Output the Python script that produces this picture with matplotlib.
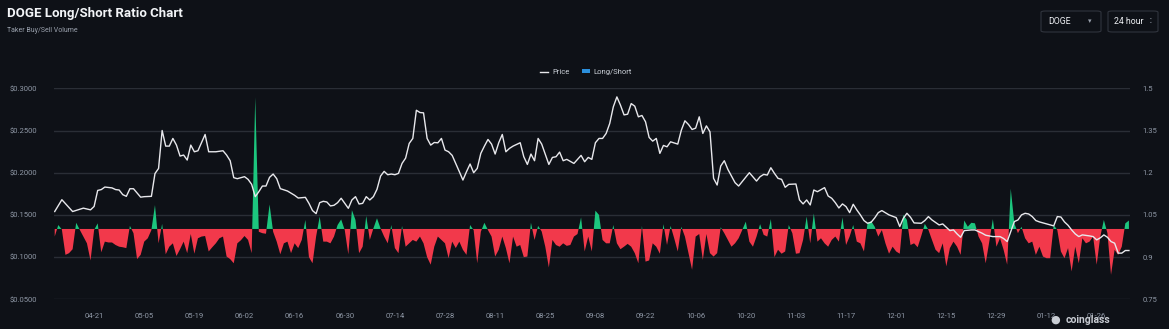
import numpy as np
import pandas as pd
import matplotlib
matplotlib.use('Agg')
import matplotlib.pyplot as plt
from matplotlib.lines import Line2D
from matplotlib.patches import Patch, FancyBboxPatch

plt.rcParams['font.family'] = ['Roboto', 'DejaVu Sans']

# daily series, day 0 = first candle
start = pd.Timestamp('2022-04-10')

# (day, price)
price_points = [
    (0, .154), (2, .168), (5, .154), (8, .158), (10, .156), (11, .160), (12, .179), (13, .180),
    (14, .183), (16, .182), (17, .180), (18, .1795), (19, .174), (20, .172), (21, .181), (22, .181),
    (24, .171), (25, .1716), (27, .172), (28, .199), (29, .205), (30, .250), (31, .2315), (32, .2315),
    (33, .2406), (34, .2327), (35, .2197), (36, .2209), (37, .215), (38, .2327), (39, .2248), (40, .226),
    (42, .2453), (43, .2248), (45, .2248), (47, .226), (48, .2209), (49, .2142), (50, .1941), (51, .1929),
    (53, .1953), (54, .1921), (55, .1862), (56, .1716), (57, .1775), (58, .1842), (59, .1842), (60, .1945),
    (61, .1984), (62, .1929), (63, .1811), (65, .1783), (67, .1732), (68, .170), (70, .1708), (71, .1637),
    (72, .1551), (73, .1515), (74, .1645), (75, .1661), (76, .1653), (77, .1606), (78, .1614), (79, .1645),
    (80, .1697), (81, .1637), (82, .1578), (83, .1677), (84, .1716), (85, .1629), (86, .1637), (87, .1716),
    (88, .1677), (89, .1716), (90, .1803), (91, .196), (92, .2016), (93, .1976), (94, .1984), (95, .1976),
    (96, .1992), (97, .211), (98, .2173), (99, .2347), (100, .2406), (101, .274), (102, .2713), (103, .2709),
    (104, .2406), (105, .2327), (106, .2358), (107, .2354), (108, .2406), (109, .2268), (110, .2248), (111, .2205),
    (112, .211), (113, .2012), (114, .1913), (115, .2012), (116, .2103), (117, .200), (118, .2051), (119, .2229),
    (120, .2315), (121, .2394), (122, .2339), (123, .2221), (124, .2355), (125, .2453), (126, .2248), (127, .2288),
    (128, .2315), (130, .2355), (131, .2189), (132, .2098), (133, .2221), (134, .2142), (135, .2406), (136, .2339),
    (138, .2098), (139, .2181), (140, .2189), (141, .2244), (142, .2142), (143, .2158), (145, .211), (147, .2205),
    (148, .213), (149, .2181), (150, .2158), (151, .2355), (152, .2406), (153, .2406), (154, .2465), (155, .2583),
    (156, .278), (157, .2898), (158, .280), (159, .2685), (160, .2693), (161, .2819), (162, .2788), (163, .2662),
    (164, .2678), (165, .2603), (166, .2418), (167, .2374), (168, .2406), (169, .2229), (170, .2323), (171, .2307),
    (172, .2366), (174, .2339), (175, .2504), (176, .2615), (177, .2571), (178, .2512), (179, .2528), (180, .2662),
    (181, .2465), (182, .2555), (183, .2484), (184, .1933), (185, .1854), (186, .2079), (187, .2142), (188, .2039),
    (189, .196), (190, .1882), (191, .1842), (192, .1894), (194, .200), (196, .1901), (197, .1953), (198, .198),
    (199, .1972), (200, .2059), (201, .1992), (202, .1933), (203, .1921), (204, .1827), (205, .1862), (207, .1866),
    (208, .1677), (209, .163), (210, .1677), (211, .1618), (212, .1795), (213, .1775), (215, .1823), (216, .1724),
    (217, .1697), (218, .1645), (219, .1582), (220, .163), (221, .1598), (222, .1527), (223, .1626), (224, .1559),
    (225, .150), (226, .1433), (227, .1401), (228, .1413), (229, .1464), (230, .1527), (231, .1551), (233, .150),
    (235, .1468), (236, .1362), (237, .146), (238, .1519), (239, .1472), (240, .1405), (242, .1401), (243, .1433),
    (244, .148), (245, .144), (247, .1381), (248, .1393), (249, .1354), (250, .1314), (251, .1322), (252, .1275),
    (253, .1235), (254, .1314), (256, .1322), (257, .1322), (259, .1283), (260, .1259), (262, .1243), (264, .1243),
    (265, .122), (266, .1184), (267, .1302), (268, .1421), (269, .144), (270, .150), (271, .1519), (272, .1511),
    (273, .148), (274, .1433), (275, .1417), (277, .1393), (279, .137), (280, .148), (281, .1475), (282, .1417),
    (283, .1377), (284, .1322), (285, .1275), (286, .1243), (287, .1263), (289, .1251), (290, .1243), (291, .1204),
    (292, .1228), (293, .1263), (294, .1235), (295, .1184), (296, .1165), (297, .1047), (298, .1047), (299, .1078),
    (300, .1078),
]

# taker buy/sell ratio, one value per day
ratio = [
    .973, 1.014, .998, .908, .914, .928, 1.022, .997, .973, .949,
    .888, .996, 1.020, .917, .955, .952, .952, .943, .937, .935,
    .932, 1.011, .985, .893, .908, .955, .967, .996, 1.085, .949,
    1.018, .910, .937, .949, .904, .928, .955, .914, .982, .912,
    .967, .973, .975, .920, .935, .949, .967, .973, .902, .893,
    .878, .949, .960, .975, .961, .914, 1.468, .990, .985, .983,
    1.087, .990, .955, .910, .949, .955, .914, .949, .932, .961,
    1.032, .900, .878, .973, 1.044, .955, .955, .949, .973, 1.014,
    1.034, .996, .910, 1.067, 1.032, .914, .937, 1.046, .961, 1.002,
    1.038, 1.002, .973, .949, 1.014, .932, .914, 1.011, .937, .949,
    .961, .955, .973, .949, .900, .873, .937, .973, .961, .949,
    .896, .955, .932, .955, .926, .908, 1.014, .996, .878, .990,
    1.022, .996, .973, .902, .926, .973, .932, .878, .973, .937,
    .943, .900, .902, 1.022, .961, 1.011, .991, .937, .863, .961,
    .943, .937, .949, .940, .943, .973, .982, 1.041, .920, .973,
    .920, 1.065, 1.050, .961, .949, .949, 1.014, .949, .928, .937,
    .947, .937, .914, .878, 1.011, .884, .888, .949, .937, .912,
    1.017, .943, 1.011, .967, .920, 1.008, .973, .914, .855, .973,
    .982, .890, .982, .914, .902, .914, 1.006, .985, .961, .937,
    .949, .967, .996, 1.026, .955, .937, .973, 1.017, .979, .973,
    1.035, .900, .926, .912, .920, 1.014, .985, .912, .914, .961,
    1.044, .949, 1.055, .955, .967, .949, .937, .961, .973, .955,
    1.041, .943, .973, 1.014, .955, .949, .920, 1.020, 1.028, 1.008,
    .973, .996, .949, .912, .937, .920, .912, 1.050, 1.032, .943,
    .949, .935, .975, 1.018, .997, .961, .926, .914, .949, .867,
    .932, .955, .937, .908, 1.030, 1.008, 1.022, 1.020, .973, .949,
    .878, .955, 1.035, .937, .967, .926, .873, 1.143, 1.020, .985,
    1.008, .967, .949, .955, .908, .937, .902, .896, .896, 1.014,
    .996, .920, .896, .932, .849, .937, .878, .967, .949, .955,
    .973, .873, .973, 1.032, .985, .837, .926, .908, .937, 1.020,
    1.030,
]

price_ticks = [0.05, 0.10, 0.15, 0.20, 0.25, 0.30]
ratio_ticks = [0.75, 0.9, 1.05, 1.2, 1.35, 1.5]
tick_dates = pd.date_range('2022-04-21', '2023-01-26', freq='14D')

bg = '#0e1117'
grid_c = '#2a2e36'
label_c = '#8f98a6'
green = '#1cc67e'
red = '#f2394b'

days = start + pd.to_timedelta(np.arange(len(ratio)), unit='D')
ratio = np.array(ratio)
p_dates = start + pd.to_timedelta([d for d, _ in price_points], unit='D')
p_vals = [v for _, v in price_points]

fig = plt.figure(figsize=(11.69, 3.29), dpi=100, facecolor=bg)
ax = fig.add_axes([54 / 1169, 1 - 299.3 / 329, 1076 / 1169, 211 / 329])
ax2 = ax.twinx()
ax.set_zorder(ax2.get_zorder() + 1)
ax.patch.set_visible(False)
ax2.set_facecolor(bg)

# long/short area around 1.0
ax2.fill_between(days, ratio, 1.0, where=ratio >= 1.0, interpolate=True,
                 color=green, linewidth=0, zorder=2)
ax2.fill_between(days, ratio, 1.0, where=ratio <= 1.0, interpolate=True,
                 color=red, linewidth=0, zorder=2)
ax2.set_ylim(0.75, 1.5)
ax2.set_yticks(ratio_ticks)
ax2.set_yticklabels(['0.75', '0.9', '1.05', '1.2', '1.35', '1.5'])
ax2.grid(axis='y', color=grid_c, linewidth=1)
ax2.set_axisbelow(True)

ax.plot(p_dates, p_vals, color='#e8e8ec', linewidth=1.0, zorder=3)
ax.set_ylim(0.05, 0.30)
ax.set_yticks(price_ticks)
ax.set_yticklabels(['$%.4f' % t for t in price_ticks])
ax.set_xlim(start - pd.Timedelta(days=0.2), days[-1] + pd.Timedelta(days=0.3))
ax.set_xticks(tick_dates)
ax.set_xticklabels([d.strftime('%m-%d') for d in tick_dates])

for a in (ax, ax2):
    for s in a.spines.values():
        s.set_visible(False)
    a.tick_params(length=0, labelsize=5.5, labelcolor=label_c)
ax.tick_params(axis='y', pad=12)
ax.tick_params(axis='x', pad=10)
ax2.tick_params(axis='y', pad=9)

# header
fig.text(7 / 1169, 1 - 13 / 329, 'DOGE Long/Short Ratio Chart', color='#f2f4f7',
         fontsize=9.5, fontweight='bold', va='center', ha='left')
fig.text(7 / 1169, 1 - 30 / 329, 'Taker Buy/Sell Volume', color='#9aa1ad',
         fontsize=5, va='center', ha='left')

# selectors
for x0, x1 in [(1041, 1101), (1108, 1158)]:
    fig.patches.append(FancyBboxPatch((x0 / 1169, 1 - 32 / 329), (x1 - x0) / 1169, 21 / 329,
                                      boxstyle='round,pad=0,rounding_size=0.004',
                                      transform=fig.transFigure, facecolor=bg,
                                      edgecolor='#30343d', linewidth=0.8))
fig.text(1048 / 1169, 1 - 21 / 329, 'DOGE', color='#eef0f4', fontsize=6.3, va='center')
fig.text(1090 / 1169, 1 - 21 / 329, '▾', color='#9aa1ad', fontsize=5, va='center',
         ha='center', family=['DejaVu Sans'])
fig.text(1114 / 1169, 1 - 21 / 329, '24 hour', color='#eef0f4', fontsize=6.3, va='center')
fig.text(1150 / 1169, 1 - 21 / 329, '⌃\n⌄', color='#9aa1ad', fontsize=3.2, va='center',
         ha='center', linespacing=0.6, family=['DejaVu Sans'])

# legend
handles = [Line2D([], [], color='#e8e8ec', linewidth=1),
           Patch(facecolor='#2b8fdc', edgecolor='none')]
fig.legend(handles, ['Price', 'Long/Short'], loc='center', bbox_to_anchor=(586 / 1169, 1 - 72 / 329),
           ncol=2, frameon=False, fontsize=5.5, labelcolor='#c9ced6', handlelength=1.1,
           handleheight=0.5, columnspacing=1.6, handletextpad=0.5)

# watermark
fig.text(1055 / 1169, 1 - 320 / 329, '●', color='#c8ccd3', fontsize=8, va='center',
         ha='center', family=['DejaVu Sans'])
fig.text(1066 / 1169, 1 - 320 / 329, 'coinglass', color='#c8ccd3', fontsize=7.5,
         fontweight='bold', va='center', ha='left')

fig.savefig('out.png', dpi=100, facecolor=bg)
